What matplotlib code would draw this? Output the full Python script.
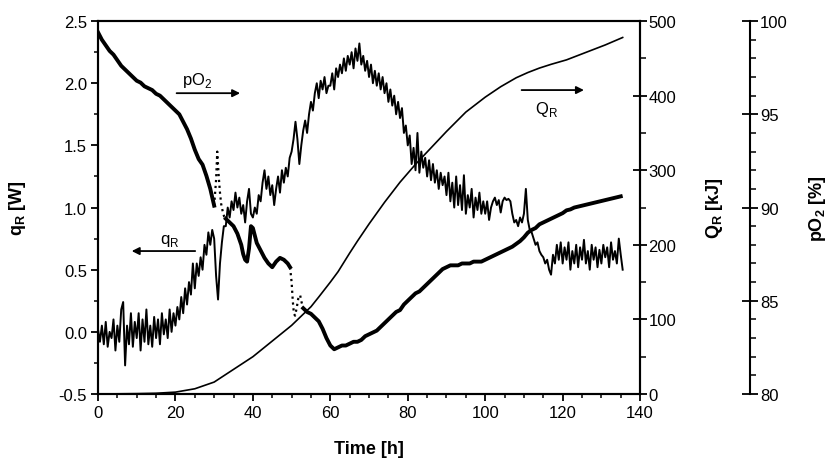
import matplotlib.pyplot as plt
import numpy as np
from matplotlib.ticker import MultipleLocator

plt.rcParams['font.family'] = ['Liberation Sans', 'DejaVu Sans']
plt.rcParams['mathtext.fontset'] = 'custom'
plt.rcParams['mathtext.rm'] = 'Liberation Sans'
plt.rcParams['mathtext.bf'] = 'Liberation Sans:bold'

qr_vals = [
    0.02, -0.08, 0.05, -0.10, 0.08, -0.12, 0.00, -0.05, 0.10, -0.15,
    0.05, -0.08, 0.18, 0.24, -0.27, 0.05, -0.10, 0.15, -0.12, 0.08,
    -0.05, 0.15, -0.15, 0.10, -0.08, 0.18, -0.10, 0.05, -0.12, 0.12,
    -0.05, 0.10, -0.10, 0.15, -0.02, 0.10, -0.05, 0.18, 0.00, 0.15,
    0.05, 0.20, 0.10, 0.28, 0.15, 0.35, 0.22, 0.40, 0.30, 0.55,
    0.35, 0.55, 0.45, 0.60, 0.50, 0.70, 0.62, 0.80, 0.70, 0.82,
    0.75, 0.45, 0.26, 0.55, 0.72, 0.85, 0.85, 1.00, 0.92, 1.05,
    0.98, 1.12, 1.00, 1.08, 0.95, 1.02, 0.88, 1.05, 1.15, 0.95,
    0.92, 1.00, 0.95, 1.10, 1.05, 1.20, 1.30, 1.15, 1.25, 1.10,
    1.18, 1.02, 1.15, 1.25, 1.12, 1.30, 1.20, 1.32, 1.25, 1.40,
    1.45, 1.55, 1.69, 1.55, 1.35, 1.50, 1.62, 1.70, 1.60, 1.75,
    1.85, 1.78, 1.92, 2.00, 1.88, 2.02, 1.95, 2.05, 1.92, 1.98,
    1.98, 2.08, 1.95, 2.12, 2.05, 2.15, 2.08, 2.20, 2.10, 2.22,
    2.15, 2.25, 2.12, 2.28, 2.18, 2.32, 2.15, 2.22, 2.10, 2.18,
    2.05, 2.15, 2.00, 2.10, 1.98, 2.08, 1.95, 2.05, 1.92, 2.00,
    1.85, 1.95, 1.82, 1.90, 1.75, 1.85, 1.72, 1.80, 1.60, 1.66,
    1.50, 1.58, 1.35, 1.48, 1.30, 1.60, 1.28, 1.45, 1.32, 1.40,
    1.25, 1.38, 1.22, 1.35, 1.20, 1.30, 1.15, 1.28, 1.18, 1.25,
    1.10, 1.28, 1.05, 1.20, 1.00, 1.25, 1.02, 1.18, 0.98, 1.26,
    0.95, 1.10, 1.00, 1.15, 0.92, 1.08, 0.98, 1.12, 0.95, 1.05,
    0.95, 1.05, 0.90, 1.00, 1.05, 1.08, 1.02, 1.06, 0.96, 1.05,
    1.08, 1.06, 1.07, 1.05, 0.95, 0.88, 0.90, 0.85, 0.92, 0.88,
    0.95, 1.15, 0.90, 0.82, 0.80, 0.75, 0.70, 0.72, 0.65, 0.62,
    0.60, 0.55, 0.58, 0.50, 0.46, 0.62, 0.55, 0.70, 0.58, 0.72,
    0.55, 0.68, 0.58, 0.72, 0.50, 0.65, 0.55, 0.70, 0.52, 0.68,
    0.58, 0.74, 0.55, 0.65, 0.50, 0.70, 0.58, 0.68, 0.52, 0.66,
    0.55, 0.70, 0.60, 0.68, 0.52, 0.72, 0.58, 0.65, 0.55, 0.75,
    0.62, 0.50,
]
qr_time = np.arange(len(qr_vals)) * 0.5

# cumulated heat QR [kJ]
Q_time = [0, 10, 15, 20, 25, 30, 35, 40, 45, 50, 52, 55, 57, 60, 62, 65,
          67, 70, 74, 78, 82, 86, 90, 95, 100, 104, 108, 111, 114, 117,
          121, 125, 128, 131, 135.5]
Q_vals = [0, 0.5, 1, 2.5, 7, 16, 33, 50, 71, 92, 102, 117, 130, 150, 164,
          189, 205, 228, 257, 284, 308, 330, 352, 378, 398, 412, 424, 431,
          437, 442, 448, 456, 462, 468, 478]

# dissolved oxygen pO2 [%], solid parts and sparse (dotted) parts
po2_t1 = list(range(0, 31))
po2_v1 = [99.4, 99.0, 98.7, 98.4, 98.2, 97.9, 97.6, 97.4, 97.2, 97.0,
          96.8, 96.7, 96.5, 96.4, 96.3, 96.1, 96.0, 95.8, 95.6, 95.4,
          95.2, 95.0, 94.6, 94.2, 93.7, 93.1, 92.6, 92.3, 91.7, 91.0, 90.1]
po2_tg1 = [30.0, 30.5, 30.8, 31.0, 31.2, 31.5, 31.8, 32.2, 32.6, 33.0]
po2_vg1 = [90.1, 91.5, 93.0, 92.3, 91.6, 90.8, 90.2, 89.8, 89.5, 89.4]
po2_t2 = [33, 34, 35, 36, 37, 37.5, 38, 38.5, 39, 39.5, 40, 40.5, 41, 42,
          43, 44, 45, 46, 47, 48, 49, 49.6]
po2_v2 = [89.4, 89.2, 89.0, 88.6, 88.0, 87.5, 87.2, 87.1, 87.8, 89.0,
          88.9, 88.5, 88.1, 87.7, 87.3, 87.0, 86.8, 87.1, 87.3, 87.2,
          87.0, 86.8]
po2_tg2 = [49.6, 50.0, 50.3, 50.6, 50.9, 51.3, 51.7, 52.2, 52.6, 53.0]
po2_vg2 = [86.8, 86.0, 85.0, 84.3, 84.2, 84.6, 85.1, 85.3, 84.9, 84.6]
po2_t3 = list(range(53, 136))
po2_v3 = [84.6, 84.4, 84.3, 84.1, 83.9, 83.5, 83.0, 82.6, 82.4, 82.5,
          82.6, 82.6, 82.7, 82.8, 82.8, 82.9, 83.1, 83.2, 83.3, 83.4,
          83.6, 83.8, 84.0, 84.2, 84.4, 84.5, 84.8, 85.0, 85.2, 85.4,
          85.5, 85.7, 85.9, 86.1, 86.3, 86.5, 86.7, 86.8, 86.9, 86.9,
          86.9, 87.0, 87.0, 87.0, 87.1, 87.1, 87.1, 87.2, 87.3, 87.4,
          87.5, 87.6, 87.7, 87.8, 87.9, 88.05, 88.2, 88.4, 88.65, 88.8,
          88.9, 89.1, 89.2, 89.3, 89.4, 89.5, 89.6, 89.7, 89.85, 89.9,
          90.0, 90.05, 90.1, 90.15, 90.2, 90.25, 90.3, 90.35, 90.4, 90.45,
          90.5, 90.55, 90.6]

fig = plt.figure(figsize=(8.27, 4.6), dpi=100)
ax = fig.add_axes([0.1185, 0.1413, 0.6555, 0.8107])
ax2 = ax.twinx()
ax3 = ax.twinx()

ax.plot(qr_time, qr_vals, color='k', lw=1.4)
ax2.plot(Q_time, Q_vals, color='k', lw=1.2)
ax3.plot(po2_t1, po2_v1, color='k', lw=2.8)
ax3.plot(po2_tg1, po2_vg1, color='k', lw=1.6, ls=':')
ax3.plot(po2_t2, po2_v2, color='k', lw=2.8)
ax3.plot(po2_tg2, po2_vg2, color='k', lw=1.6, ls=':')
ax3.plot(po2_t3, po2_v3, color='k', lw=2.8)

ax.set_xlim(0, 140)
ax.set_ylim(-0.5, 2.5)
ax2.set_ylim(0, 500)
ax3.set_ylim(80, 100)

ax.xaxis.set_major_locator(MultipleLocator(20))
ax.xaxis.set_minor_locator(MultipleLocator(5))
ax.yaxis.set_major_locator(MultipleLocator(0.5))
ax.yaxis.set_minor_locator(MultipleLocator(0.25))
ax.yaxis.set_major_formatter(plt.FuncFormatter(lambda v, p: f'{v:.1f}'))
ax2.yaxis.set_major_locator(MultipleLocator(100))
ax2.yaxis.set_minor_locator(MultipleLocator(50))
ax3.yaxis.set_major_locator(MultipleLocator(5))
ax3.yaxis.set_minor_locator(MultipleLocator(1))

for a in (ax, ax2, ax3):
    for s in a.spines.values():
        s.set_linewidth(1.5)
ax.tick_params(which='major', direction='out', length=5, width=1.3,
               labelsize=12, pad=3)
ax.tick_params(which='minor', direction='out', length=3, width=1.1)
ax2.tick_params(which='major', direction='inout', length=10, width=1.3,
                labelsize=12, pad=1)
ax2.tick_params(which='minor', direction='out', length=4, width=1.1)

ax3.spines['right'].set_position(('axes', 1.203))
ax3.spines['top'].set_visible(False)
ax3.spines['bottom'].set_visible(False)
ax3.spines['left'].set_visible(False)
ax3.tick_params(which='major', direction='inout', length=12, width=1.3,
                labelsize=12, pad=1)
ax3.tick_params(which='minor', direction='out', length=4, width=1.1)

ax.set_xlabel('Time [h]', fontsize=13, fontweight='bold', labelpad=14)
ax.set_ylabel(r'$\mathbf{q_R}$ [W]', fontsize=13, fontweight='bold',
              labelpad=22)
ax2.set_ylabel(r'$\mathbf{Q_R}$ [kJ]', fontsize=13, fontweight='bold',
               labelpad=20)
ax3.set_ylabel(r'$\mathbf{pO_2}$ [%]', fontsize=13, fontweight='bold',
               labelpad=14)

arrow = dict(arrowstyle='-|>', color='k', lw=1.3, mutation_scale=11,
             shrinkA=0, shrinkB=0)
ax.annotate('', xy=(36.7, 1.92), xytext=(20.3, 1.92), arrowprops=arrow)
ax.text(25.5, 2.03, r'pO$_2$', fontsize=12, ha='center', va='center')
ax.annotate('', xy=(8.7, 0.65), xytext=(25.1, 0.65), arrowprops=arrow)
ax.text(18.6, 0.74, r'q$_\mathregular{R}$', fontsize=12, ha='center',
        va='center')
ax.annotate('', xy=(125.5, 1.945), xytext=(109.4, 1.945), arrowprops=arrow)
ax.text(115.9, 1.80, r'Q$_\mathregular{R}$', fontsize=12, ha='center',
        va='center')

fig.savefig('out.png', dpi=100)
